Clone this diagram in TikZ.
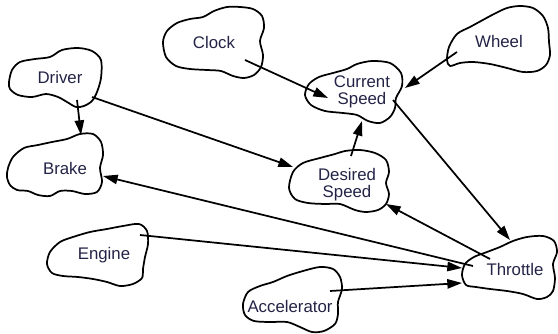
\documentclass[tikz,border=0pt]{standalone}
\usepackage{fontspec}
\setmainfont{Liberation Sans}
\usetikzlibrary{arrows.meta}
\definecolor{txt}{RGB}{35,35,70}
\tikzset{
  lbl/.style={inner sep=0pt, text=txt, align=center, font=\fontsize{12.6}{12.8}\selectfont},
  blob/.style={line width=1.3pt, line join=round},
  arr/.style={line width=1.3pt, -{Triangle[length=11pt,width=7pt]}}
}
\begin{document}
\begin{tikzpicture}[x=0.75pt,y=-0.75pt]
\useasboundingbox (0,0) rectangle (558,334);
% blobs
\draw[blob] plot[smooth cycle] coordinates {(9,82) (12,70) (20,62) (35,59) (50,57) (62,50) (78,48) (92,51) (101,60) (101,78) (97,92) (92,101) (84,106) (76,107) (67,102) (58,97) (46,94) (32,97) (18,95) (10,89)};
\draw[blob] plot[smooth cycle] coordinates {(8,168) (13,157) (24,148) (38,145) (52,142) (67,139) (80,134) (93,134) (101,142) (103,155) (100,168) (102,182) (97,192) (85,194) (72,191) (60,191) (50,196) (38,195) (28,191) (17,190) (10,185) (7,177)};
\draw[blob] plot[smooth cycle] coordinates {(163,42) (167,31) (177,23) (190,19) (203,17) (214,11) (227,7) (240,7) (253,9) (262,16) (264,28) (260,41) (263,55) (261,67) (254,75) (244,78) (233,76) (221,71) (207,70) (190,69) (176,66) (166,57)};
\draw[blob] plot[smooth cycle] coordinates {(447,60) (449,47) (457,34) (470,27) (481,21) (494,14) (507,8) (520,6) (533,8) (543,16) (548,28) (549,42) (550,55) (546,65) (537,71) (523,72) (507,68) (490,64) (473,62) (460,63) (450,66)};
\draw[blob] plot[smooth cycle] coordinates {(305,95) (309,84) (319,77) (333,73) (347,69) (357,64) (372,61) (390,63) (401,73) (402,86) (396,98) (395,108) (390,117) (380,123) (368,121) (357,115) (343,113) (325,111) (311,105)};
\draw[blob] plot[smooth cycle] coordinates {(289,188) (293,172) (303,163) (320,158) (335,154) (345,151) (360,150) (375,153) (386,160) (389,172) (386,183) (389,194) (386,204) (378,210) (366,212) (355,210) (340,204) (325,204) (308,203) (295,199)};
\draw[blob] plot[smooth cycle] coordinates {(47,264) (50,252) (60,242) (73,237) (90,232) (107,229) (123,226) (139,224) (147,231) (148,244) (145,257) (143,269) (142,278) (133,284) (120,286) (107,282) (93,279) (78,277) (63,276) (52,273)};
\draw[blob] plot[smooth cycle] coordinates {(462,275) (465,264) (474,257) (487,252) (500,247) (513,241) (527,237) (543,236) (554,241) (557,252) (553,264) (555,278) (553,291) (547,297) (537,299) (523,294) (507,291) (490,289) (476,287) (466,285)};
\draw[blob] plot[smooth cycle] coordinates {(243,304) (248,292) (260,286) (273,282) (287,276) (303,271) (320,267) (333,269) (340,277) (342,289) (338,302) (338,314) (335,324) (324,331) (312,332) (300,327) (287,322) (270,322) (254,321) (245,315)};
% labels
\node[lbl] (driver) at (60,78) {Driver};
\node[lbl] (brake) at (65,168) {Brake};
\node[lbl] (clock) at (214,43) {Clock};
\node[lbl] (wheel) at (499,42) {Wheel};
\node[lbl] (current) at (362,92) {Current\\Speed};
\node[lbl] (desired) at (347,185) {Desired\\Speed};
\node[lbl] (engine) at (104,255) {Engine};
\node[lbl] (throttle) at (515,269) {Throttle};
\node[lbl] (accel) at (290,306) {Accelerator};
% connectors
\draw[arr] ([shift={(17,22)}]driver.center) -- ([shift={(16,-33)}]brake.center);
\draw[arr] ([shift={(32,19)}]driver.center) -- ([shift={(-54,-18)}]desired.center);
\draw[arr] ([shift={(31,17)}]clock.center) -- ([shift={(-34,6)}]current.center);
\draw[arr] ([shift={(-42,10)}]wheel.center) -- ([shift={(43,-4)}]current.center);
\draw[arr] ([shift={(4,-29)}]desired.center) -- ([shift={(0,29)}]current.center);
\draw[arr] ([shift={(31,8)}]current.center) -- ([shift={(-5,-29)}]throttle.center);
\draw[arr] ([shift={(-42,-3)}]throttle.center) -- ([shift={(38,8)}]brake.center);
\draw[arr] ([shift={(-25,-10)}]throttle.center) -- ([shift={(39,19)}]desired.center);
\draw[arr] ([shift={(36,-20)}]engine.center) -- ([shift={(-53,-1)}]throttle.center);
\draw[arr] ([shift={(40,-15)}]accel.center) -- ([shift={(-53,14)}]throttle.center);
\end{tikzpicture}
\end{document}
